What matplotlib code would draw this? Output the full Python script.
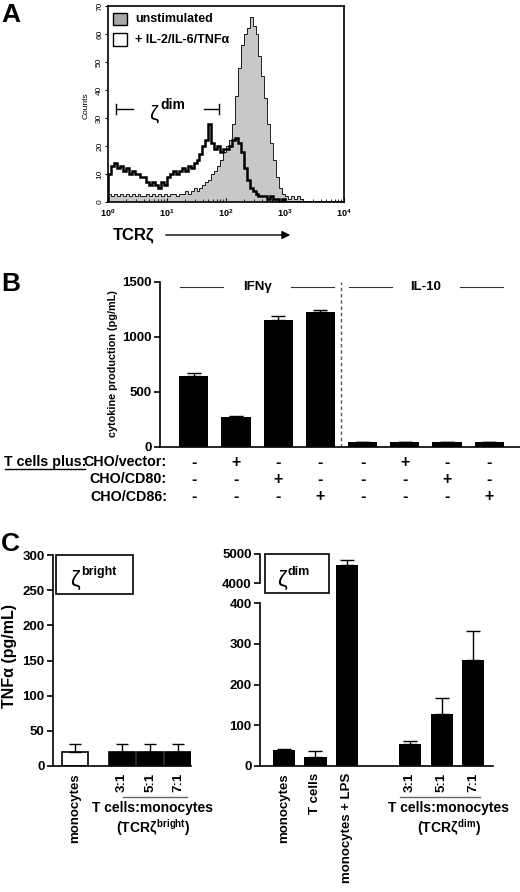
import numpy as np
import matplotlib
matplotlib.use('Agg')
import matplotlib.pyplot as plt
from matplotlib.patches import Rectangle
from matplotlib.transforms import blended_transform_factory

plt.rcParams['font.family'] = ['Liberation Sans', 'DejaVu Sans']
plt.rcParams['font.weight'] = 'bold'
plt.rcParams['mathtext.fontset'] = 'custom'
plt.rcParams['mathtext.rm'] = 'Liberation Sans'
plt.rcParams['mathtext.it'] = 'Liberation Sans:bold'
plt.rcParams['mathtext.bf'] = 'Liberation Sans:bold'
plt.rcParams['axes.linewidth'] = 1.2

# ---- Panel A: TCRzeta flow histograms (20 channels per decade, 10^0..10^4)
unstim_counts = [3, 2, 3, 2, 3, 2, 3, 2, 3, 2,
                 3, 2, 2, 3, 2, 3, 2, 3, 2, 3,
                 2, 3, 3, 2, 3, 3, 4, 3, 4, 5,
                 4, 5, 6, 7, 8, 10, 11, 13, 15, 18,
                 20, 22, 28, 38, 48, 56, 60, 62, 66, 63,
                 60, 52, 45, 37, 28, 21, 15, 9, 5, 3,
                 2, 1, 2, 1, 2, 1, 0, 0, 0, 0,
                 0, 0, 0, 0, 0, 0, 0, 0, 0, 0]
stim_counts = [10, 13, 14, 12, 13, 11, 12, 10, 11, 10,
               10, 9, 9, 7, 6, 7, 6, 5, 7, 6,
               9, 10, 11, 10, 11, 12, 11, 13, 12, 14,
               15, 17, 20, 22, 28, 21, 19, 20, 18, 19,
               19, 20, 22, 23, 21, 18, 12, 8, 5, 4,
               3, 2, 2, 2, 1, 2, 1, 1, 0, 1,
               0, 0, 0, 0, 0, 0, 0, 0, 0, 0,
               0, 0, 0, 0, 0, 0, 0, 0, 0, 0]

# ---- Panel B: cytokine production
b_values = [645, 270, 1152, 1230, 48, 48, 48, 48]
b_err = [30, 15, 38, 15, 0, 0, 0, 0]
b_vector = ['-', '+', '-', '-', '-', '+', '-', '-']
b_cd80 = ['-', '-', '+', '-', '-', '-', '+', '-']
b_cd86 = ['-', '-', '-', '+', '-', '-', '-', '+']
b_groups = ['IFNγ', 'IL-10']

# ---- Panel C: TNFalpha
cl_labels = ['monocytes', '3:1', '5:1', '7:1']
cl_values = [20, 20, 20, 20]
cl_err = [11, 11, 11, 11]
cr_labels = ['monocytes', 'T cells', 'monocytes + LPS', '3:1', '5:1', '7:1']
cr_values = [40, 21, 4640, 55, 129, 261]
cr_err = [1, 16, 170, 6, 39, 70]

W, H = 520, 892
fig = plt.figure(figsize=(W / 100, H / 100), dpi=100)


def box(l, t, r, b):
    return [l / W, 1 - b / H, (r - l) / W, (b - t) / H]


def fx(px):
    return px / W


def fy(py):
    return 1 - py / H


# ================= A =================
axA = fig.add_axes(box(108, 6, 344, 202))
edges = np.logspace(0, 4, len(unstim_counts) + 1)
axA.stairs(unstim_counts, edges, fill=True, color='#c8c8c8')
axA.stairs(unstim_counts, edges, color='black', lw=0.6)
axA.stairs(stim_counts, edges, color='black', lw=1.8)
axA.set_xscale('log')
axA.set_xlim(1, 1e4)
axA.set_ylim(0, 70)
axA.set_yticks(range(0, 71, 10))
axA.set_xticks([1, 10, 100, 1000, 10000])
axA.set_xticklabels([r'$\mathrm{10^{%d}}$' % i for i in range(5)])
axA.tick_params(axis='x', which='major', direction='in', length=3, labelsize=6.5, pad=4)
axA.tick_params(axis='x', which='minor', direction='in', length=2)
axA.tick_params(axis='y', direction='out', length=2, labelsize=6, pad=1.5, labelrotation=90)
for lab in axA.get_yticklabels() + axA.get_xticklabels():
    lab.set_fontweight('normal')
for lab in axA.get_yticklabels():
    lab.set_va('center')

# legend
axA.add_patch(Rectangle((0.021, 0.903), 0.059, 0.061, transform=axA.transAxes,
                        fc='#a8a8a8', ec='black', lw=1, clip_on=False))
axA.add_patch(Rectangle((0.021, 0.796), 0.059, 0.066, transform=axA.transAxes,
                        fc='white', ec='black', lw=1, clip_on=False))
axA.text(0.114, 0.933, 'unstimulated', transform=axA.transAxes, fontsize=9, va='center')
axA.text(0.114, 0.829, '+ IL-2/IL-6/TNFα', transform=axA.transAxes, fontsize=9, va='center')

# zeta-dim gate
gy = 33.2
axA.plot([10 ** 0.136, 10 ** 0.42], [gy, gy], color='black', lw=1)
axA.plot([10 ** 1.63, 10 ** 1.88], [gy, gy], color='black', lw=1)
axA.plot([10 ** 0.136, 10 ** 0.136], [gy - 1.8, gy + 1.8], color='black', lw=1)
axA.plot([10 ** 1.88, 10 ** 1.88], [gy - 1.8, gy + 1.8], color='black', lw=1)
axA.text(10 ** 0.78, 31.5, 'ζ', fontsize=15, fontweight='normal', ha='center', va='center')
axA.text(10 ** 0.88, 37, 'dim', fontsize=10, ha='left', va='top')

fig.text(fx(86), fy(106), 'Counts', rotation=90, fontsize=6, fontweight='normal',
         ha='center', va='center')
fig.text(fx(113), fy(235), 'TCRζ', fontsize=12, ha='left', va='center')
axA.annotate('', xy=(fx(293), fy(235)), xytext=(fx(163), fy(235)),
             xycoords='figure fraction', textcoords='figure fraction',
             arrowprops=dict(arrowstyle='-|>', color='black', lw=1, mutation_scale=12),
             annotation_clip=False)

# ================= B =================
axB = fig.add_axes(box(160, 282, 520, 447))
xb = np.arange(len(b_values))
axB.bar(xb, b_values, width=0.69, color='black')
axB.errorbar(xb, b_values, yerr=[np.zeros(len(b_err)), b_err], fmt='none',
             ecolor='black', elinewidth=1, capsize=5, capthick=1)
axB.set_xlim(-0.8, 7.73)
axB.set_ylim(0, 1500)
axB.set_yticks([0, 500, 1000, 1500])
axB.set_xticks([])
axB.tick_params(axis='y', length=4, width=1.2, labelsize=9.5, pad=2)
axB.spines['top'].set_visible(False)
axB.spines['right'].set_visible(False)
axB.axvline(3.5, color='#555555', ls=(0, (2.5, 2)), lw=1)
for c, name in zip([1.5, 5.5], b_groups):
    axB.plot([c - 1.82, c - 0.8], [1455, 1455], color='#333333', lw=0.8, clip_on=False)
    axB.plot([c + 0.8, c + 1.82], [1455, 1455], color='#333333', lw=0.8, clip_on=False)
    axB.text(c, 1455, name, fontsize=9.5, ha='center', va='center')
fig.text(fx(113), fy(364), 'cytokine production (pg/mL)', rotation=90, fontsize=7.8,
         ha='center', va='center')

tr = blended_transform_factory(axB.transData, fig.transFigure)
rows = [b_vector, b_cd80, b_cd86]
row_names = ['CHO/vector:', 'CHO/CD80:', 'CHO/CD86:']
row_y = [462, 479, 497]
for row, name, py in zip(rows, row_names, row_y):
    fig.text(fx(167), fy(py), name, fontsize=10.3, ha='right', va='center')
    for xi, s in zip(xb, row):
        axB.text(xi, fy(py), s, transform=tr, fontsize=11.5,
                 ha='center', va='center')
fig.text(fx(86), fy(462), 'T cells plus:', fontsize=10.3, ha='right', va='center')
fig.add_artist(plt.Line2D([fx(5), fx(85)], [fy(469), fy(469)], color='black', lw=1))

# ================= C left =================
axCL = fig.add_axes(box(53, 555, 191, 766))
xcl = [0, 1.68, 2.68, 3.68]
axCL.bar(xcl, cl_values, width=0.92, color=['white', 'black', 'black', 'black'],
         edgecolor='black', lw=1.2)
axCL.errorbar(xcl, cl_values, yerr=[np.zeros(len(cl_err)), cl_err], fmt='none',
              ecolor='black', elinewidth=1, capsize=4, capthick=1)
axCL.set_xlim(-0.786, 4.14)
axCL.set_ylim(0, 300)
axCL.set_yticks(range(0, 301, 50))
axCL.set_xticks(xcl)
axCL.set_xticklabels(cl_labels, rotation=90, fontsize=9.5)
axCL.tick_params(axis='x', length=0, pad=5)
axCL.tick_params(axis='y', length=4, width=1.2, labelsize=9.5, pad=2)
axCL.spines['top'].set_visible(False)
axCL.spines['right'].set_visible(False)
fig.text(fx(10), fy(656), 'TNFα (pg/mL)', rotation=90, fontsize=11.5, ha='center', va='center')


# ================= C right (broken axis) =================
def fwd(y):
    y = np.asarray(y, dtype=float)
    return np.where(y <= 400, y, np.where(y < 4000, 400 + (y - 400) * 49 / 3600,
                                          449 + (y - 4000) * 0.072))


def inv(t):
    t = np.asarray(t, dtype=float)
    return np.where(t <= 400, t, np.where(t < 449, 400 + (t - 400) * 3600 / 49,
                                          4000 + (t - 449) / 0.072))


axCR = fig.add_axes(box(260, 554, 493, 766))
xcr = [0, 1, 2, 4, 5, 6]
axCR.set_yscale('function', functions=(fwd, inv))
axCR.bar(xcr, cr_values, width=0.7, color='black')
axCR.errorbar(xcr, cr_values, yerr=[np.zeros(len(cr_err)), cr_err], fmt='none',
              ecolor='black', elinewidth=1, capsize=5, capthick=1)
axCR.set_xlim(-0.76, 6.63)
axCR.set_ylim(0, 5000)
axCR.set_yticks([0, 100, 200, 300, 400, 4000, 5000])
axCR.set_yticklabels(['0', '100', '200', '300', '400', '4000', '5000'])
axCR.minorticks_off()
axCR.set_xticks(xcr)
axCR.set_xticklabels(cr_labels, rotation=90, fontsize=9.5)
axCR.tick_params(axis='x', length=0, pad=5)
axCR.tick_params(axis='y', length=4, width=1.2, labelsize=9.5, pad=2)
for s in ['top', 'right', 'left']:
    axCR.spines[s].set_visible(False)
ytr = axCR.get_yaxis_transform()
axCR.plot([0, 0], [0, 400], transform=ytr, color='black', lw=1.2, clip_on=False)
axCR.plot([0, 0], [4000, 5000], transform=ytr, color='black', lw=1.2, clip_on=False)

# zeta boxes
for (l, t, r, b), sup, zx in [((56, 555, 133, 594), 'bright', 75), ((265, 554, 329, 593), 'dim', 282)]:
    fig.add_artist(Rectangle((fx(l), fy(b)), (r - l) / W, (b - t) / H,
                             transform=fig.transFigure, fill=False, ec='black', lw=1.2))
    fig.text(fx(zx), fy(580), 'ζ', fontsize=16, fontweight='normal', ha='center', va='center')
    fig.text(fx(zx + 6), fy(572), sup, fontsize=9, ha='left', va='center')

# ratio group labels
for l, r, c, sup in [(123, 187, 153, r'(TCR$\zeta^{\mathbf{bright}}$)'),
                     (400, 480, 449, r'(TCR$\zeta^{\mathbf{dim}}$)')]:
    fig.add_artist(plt.Line2D([fx(l), fx(r)], [fy(797), fy(797)], color='#666666', lw=1))
    fig.text(fx(c), fy(808), 'T cells:monocytes', fontsize=10, ha='center', va='center')
    fig.text(fx(c), fy(828), sup, fontsize=10, ha='center', va='center')

# panel letters
fig.text(fx(1), fy(3), 'A', fontsize=19, va='top')
fig.text(fx(1), fy(272), 'B', fontsize=19, va='top')
fig.text(fx(1), fy(532), 'C', fontsize=19, va='top')

fig.savefig('out.png', dpi=100)
